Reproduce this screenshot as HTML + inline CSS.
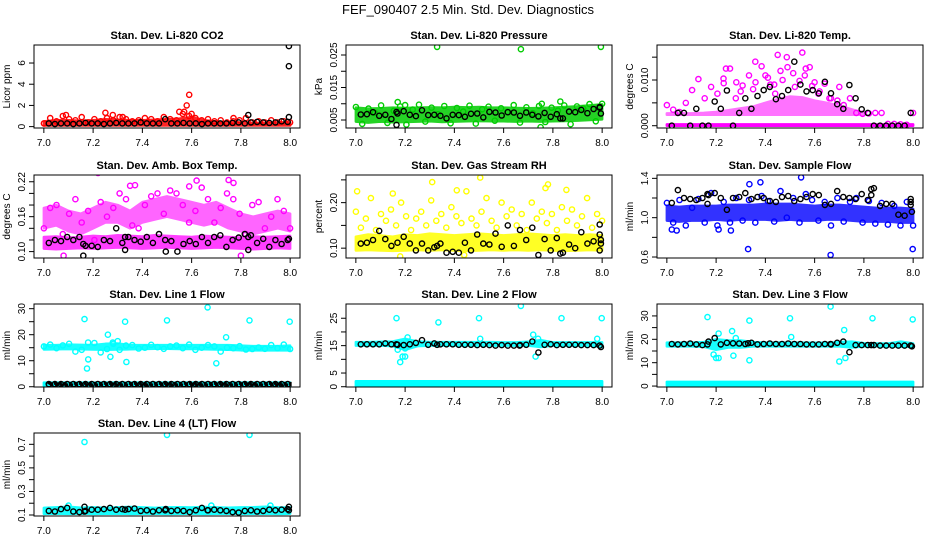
<!DOCTYPE html>
<html><head><meta charset="utf-8"><style>
body{margin:0;background:#fff}
svg{display:block;font-family:"Liberation Sans",sans-serif}
</style></head><body>
<svg id="chart" width="936" height="540" viewBox="0 0 936 540" xmlns="http://www.w3.org/2000/svg">
<rect width="936" height="540" fill="#fff"/>
<text x="468" y="14" text-anchor="middle" font-size="13">FEF_090407  2.5 Min. Std. Dev. Diagnostics</text>
</svg>
<script>
// ---------- data ----------
const xTicks=[7.0,7.2,7.4,7.6,7.8,8.0];
const xTickLabels=["7.0","7.2","7.4","7.6","7.8","8.0"];

const co2Lo=[0.1,0.1,0.1,0.1,0.1,0.1,0.1,0.1,0.1,0.1,0.1,0.1,0.1,0.1,0.1,0.1,0.1,0.1,0.1,0.1,0.1];
const co2Hi=[0.5,0.6,0.6,0.55,0.6,0.7,0.65,0.6,0.6,0.65,0.7,0.75,0.9,0.6,0.5,0.4,0.4,0.35,0.35,0.4,0.4];
const co2Pts=[0.3,0.8,0.5,1.0,0.7,0.6,0.9,0.4,0.7,0.5,0.8,0.6,0.9,0.7,0.5,0.6,0.8,0.7,0.5,0.9,0.7,0.6,1.2,1.0,0.8,0.6,0.7,0.5,0.6,0.4,0.5,0.6,0.8,0.4,0.5,0.4,0.6,0.4,0.5,0.4];
const co2Out=[[7.09,1.1],[7.25,1.3],[7.28,1.1],[7.32,0.9],[7.55,1.4],[7.57,1.4],[7.58,2.0],[7.59,3.0],[7.6,1.2],[7.77,0.8]];
const co2Blk=[0.3,0.25,0.3,0.3,0.25,0.3,0.35,0.3,0.3,0.25,0.3,0.35,0.3,0.3,0.3,0.4,0.3,0.3,0.3,0.7,0.3,0.3,0.35,0.3,0.3,0.25,0.3,0.3,0.3,0.3,0.35,0.4,0.3,0.4,0.45,0.4,0.35,0.4,0.5,0.45];
const co2BlkOut=[[7.83,1.1],[7.995,7.6],[7.995,5.7],[7.995,0.9]];

const prsLo=[0.0045,0.0042,0.0045,0.0043,0.0044,0.0045,0.0046,0.0044,0.0045,0.0046,0.0047,0.0046,0.0046,0.0045,0.0046,0.0045,0.0046,0.0047,0.0048,0.0050,0.0052];
const prsHi=[0.0088,0.0085,0.0086,0.0088,0.0087,0.0088,0.0089,0.0088,0.0090,0.0089,0.0090,0.0088,0.0088,0.0087,0.0086,0.0087,0.0088,0.0090,0.0092,0.0095,0.0098];
const prsPts=[0.009,0.0038,0.0085,0.0072,0.0095,0.0041,0.0078,0.0092,0.0036,0.0082,0.0097,0.0045,0.0088,0.0068,0.0093,0.0040,0.0087,0.0076,0.0094,0.0039,0.0083,0.0091,0.0048,0.0086,0.0075,0.0096,0.0042,0.0089,0.0071,0.0093,0.0044,0.0088,0.0079,0.0095,0.0037,0.0092,0.0085,0.0099,0.0046,0.0100];
const prsOut=[[7.33,0.0275],[7.67,0.0268],[7.995,0.0275],[7.17,0.0105],[7.83,0.0107],[7.755,0.0100],[7.75,0.0028],[7.2,0.0096]];
const prsBlk=[0.0067,0.0068,0.0074,0.0063,0.0066,0.0053,0.0070,0.0077,0.0066,0.0062,0.0080,0.0065,0.0066,0.0063,0.0055,0.0066,0.0065,0.0060,0.0069,0.0070,0.0058,0.0075,0.0073,0.0064,0.0074,0.0073,0.0063,0.0073,0.0066,0.0061,0.0072,0.0060,0.0068,0.0055,0.0076,0.0074,0.0081,0.0071,0.0084,0.0088];
const prsBlkOut=[[7.165,0.0035],[7.165,0.0075],[7.83,0.0055],[7.99,0.0090],[7.995,0.0070]];

const tmpLo0=[0,0,0,0,0,0,0,0,0,0,0,0,0,0,0,0,0,0,0,0,0];
const tmpHi0=[0.0003,0.0003,0.0003,0.0003,0.0003,0.0003,0.0003,0.0003,0.0003,0.0003,0.0003,0.0003,0.0003,0.0003,0.0003,0.0003,0.0003,0.0003,0.0003,0.0003,0.0003];
const tmpLo1=[0.0024,0.0024,0.0024,0.0024,0.0024,0.0024,0.0024,0.0024,0.0024,0.0024,0.0024,0.0024,0.0024,0.0024,0.0024,0.0024,0.0024,null,null,null,null];
const tmpHi1=[0.0027,0.0027,0.0027,0.0028,0.0030,0.0034,0.0038,0.0042,0.0050,0.0058,0.0064,0.0062,0.0055,0.0050,0.0044,0.0036,0.0028,null,null,null,null];
const tmpPts=[0.0045,0.0035,0.0030,0.0050,0.0078,0.0102,0.0060,0.0085,0.0070,0.0093,0.0125,0.0095,0.0088,0.0110,0.0140,0.0130,0.0105,0.0090,0.0120,0.0150,0.0115,0.0098,0.0125,0.0087,0.0070,0.0092,0.0060,0.0055,0.0045,0.0060,0.0028,0.0026,0.0027,0.0028,0.0028,0.0004,0.0004,0.0003,0.0002,0.0028];
const tmpOut=[[7.23,0.0103],[7.24,0.0125],[7.45,0.0155],[7.55,0.0160],[7.58,0.0128],[7.49,0.0128],[7.4,0.0110],[7.3,0.0075],[7.35,0.0080],[7.42,0.0090],[7.47,0.0100],[7.52,0.0085],[7.6,0.0095],[7.62,0.0075],[7.66,0.0060],[7.7,0.0085],[7.28,0.0060],[7.36,0.0095],[7.44,0.0070],[7.56,0.0110]];
const tmpBlk=[0.0,0.0028,0.0028,0.0,0.0037,0.0,0.0,0.0053,0.0037,0.0077,0.0,0.0028,0.0060,0.0037,0.0065,0.0078,0.0085,0.0058,0.0065,0.0078,0.0140,0.0090,0.0075,0.0078,0.0071,0.0096,0.0071,0.0047,0.0037,0.0089,0.0060,0.0036,0.0028,0.0,0.0,0.0,0.0,0.0,0.0,0.0028];

const ambLoA=[0.140,0.145,0.135,0.130,0.140,0.150,0.150,0.140,0.150,0.155,0.160,0.155,0.150,0.145,0.150,0.140,0.135,0.130,0.135,0.140,0.135];
const ambHiA=[0.175,0.180,0.170,0.165,0.175,0.185,0.180,0.170,0.185,0.190,0.195,0.190,0.185,0.180,0.185,0.175,0.165,0.160,0.165,0.170,0.165];
const ambLoB=[0.105,0.104,0.105,0.106,0.105,0.106,0.107,0.106,0.105,0.106,0.107,0.106,0.105,0.106,0.107,0.106,0.105,0.104,0.105,0.106,0.105];
const ambHiB=[0.125,0.126,0.124,0.125,0.127,0.126,0.128,0.127,0.126,0.128,0.127,0.126,0.125,0.127,0.126,0.125,0.124,0.126,0.125,0.126,0.127];
const ambPts=[0.14,0.175,0.18,0.13,0.165,0.19,0.15,0.17,0.12,0.185,0.16,0.175,0.2,0.19,0.145,0.14,0.18,0.195,0.2,0.165,0.205,0.2,0.18,0.15,0.17,0.21,0.19,0.15,0.175,0.2,0.19,0.165,0.13,0.18,0.185,0.14,0.16,0.19,0.17,0.14];
const ambOut=[[7.22,0.235],[7.35,0.213],[7.37,0.214],[7.62,0.222],[7.75,0.223],[7.77,0.218],[7.08,0.093],[7.8,0.093],[7.59,0.212]];
const ambBlk=[0.115,0.12,0.118,0.125,0.12,0.125,0.11,0.11,0.108,0.12,0.118,0.14,0.115,0.125,0.12,0.117,0.125,0.115,0.13,0.12,0.118,0.1,0.113,0.118,0.113,0.125,0.115,0.125,0.128,0.108,0.12,0.124,0.13,0.128,0.115,0.122,0.108,0.12,0.113,0.12];
const ambBlkOut=[[7.16,0.093],[7.16,0.113],[7.33,0.103],[7.33,0.125],[7.83,0.103],[7.83,0.125],[7.995,0.122],[7.495,0.10]];

const rhLo=[0.095,0.096,0.095,0.094,0.095,0.096,0.095,0.096,0.095,0.094,0.095,0.096,0.095,0.096,0.095,0.096,0.095,0.094,0.095,0.096,0.095];
const rhHi=[0.125,0.13,0.128,0.125,0.13,0.128,0.132,0.13,0.128,0.13,0.132,0.13,0.128,0.13,0.132,0.13,0.128,0.13,0.128,0.13,0.128];
const rhPts=[0.18,0.145,0.165,0.21,0.14,0.175,0.16,0.185,0.15,0.2,0.17,0.14,0.165,0.18,0.15,0.205,0.16,0.175,0.145,0.19,0.17,0.155,0.225,0.165,0.15,0.18,0.21,0.16,0.145,0.2,0.17,0.185,0.15,0.175,0.14,0.2,0.165,0.18,0.155,0.175,0.14,0.19,0.16,0.185,0.15,0.17,0.21,0.145,0.175,0.16];
const rhOut=[[7.005,0.225],[7.31,0.245],[7.41,0.227],[7.505,0.255],[7.78,0.24],[7.77,0.232],[7.855,0.228],[7.15,0.22],[7.18,0.082],[7.44,0.085]];
const rhBlk=[0.11,0.112,0.118,0.138,0.12,0.105,0.112,0.125,0.11,0.095,0.11,0.095,0.102,0.11,0.09,0.092,0.09,0.112,0.095,0.13,0.11,0.108,0.132,0.103,0.15,0.105,0.14,0.118,0.145,0.085,0.12,0.095,0.122,0.09,0.108,0.1,0.135,0.11,0.115,0.095];
const rhBlkOut=[[7.99,0.152],[7.99,0.13],[7.995,0.118],[7.995,0.11],[7.33,0.105],[7.83,0.088]];

const sfLo=[0.97,0.96,0.97,0.97,0.98,0.97,0.98,0.98,0.98,0.97,0.98,0.97,0.97,0.98,0.98,0.97,0.96,0.96,0.96,0.95,0.95];
const sfHi=[1.12,1.11,1.12,1.12,1.12,1.13,1.13,1.13,1.14,1.14,1.14,1.13,1.12,1.13,1.13,1.12,1.11,1.10,1.10,1.10,1.09];
const sfPts=[1.15,0.95,1.18,0.92,1.1,1.19,0.95,1.25,0.92,1.16,0.95,1.2,0.97,1.18,0.95,1.22,1.17,0.96,1.27,1.0,1.2,0.95,1.24,1.18,0.97,1.16,0.92,1.2,0.96,1.16,1.2,0.95,1.17,0.94,1.15,0.93,1.12,0.92,1.16,0.92];
const sfOut=[[7.33,0.68],[7.665,0.62],[7.998,0.68],[7.545,1.41],[7.335,1.34],[7.38,1.36],[7.02,0.88],[7.04,0.87],[7.21,0.88],[7.26,0.87]];
const sfBlk=[1.15,1.28,1.2,1.19,1.18,1.2,1.23,1.25,1.2,1.08,1.2,1.21,1.25,1.19,1.21,1.2,1.17,1.16,1.21,1.22,1.17,1.19,1.21,1.24,1.23,1.13,1.14,1.27,1.21,1.2,1.19,1.24,1.18,1.3,1.12,1.14,1.14,1.03,1.02,1.13];
const sfBlkOut=[[7.83,1.29],[7.83,1.23],[7.99,1.19],[7.99,1.16],[7.995,1.06],[7.165,1.14],[7.165,1.24]];

const l1Lo=[14.3,14.4,14.5,14.4,14.3,14.2,14.3,14.4,14.5,14.6,14.6,14.5,14.5,14.4,14.3,14.2,14.0,14.0,14.0,14.0,14.0];
const l1Hi=[16.0,16.0,16.2,16.1,16.0,16.5,16.6,16.0,16.0,16.0,16.0,16.0,16.0,16.0,16.0,16.0,15.8,15.6,15.6,15.6,15.8];
const l1ZLo=[0.4,0.4,0.4,0.4,0.4,0.4,0.4,0.4,0.4,0.4,0.4,0.4,0.4,0.4,0.4,0.4,0.4,0.4,0.4,0.4,0.4];
const l1ZHi=[1.6,1.6,1.6,1.6,1.6,1.6,1.6,1.6,1.6,1.6,1.6,1.6,1.6,1.6,1.6,1.6,1.6,1.6,1.6,1.6,1.6];
const l1Pts=[15.5,16.2,14.8,15.9,16.5,13.5,14.2,17.0,16.8,13.2,14.5,16.5,14.2,15.8,16.0,14.7,15.0,16.1,15.2,14.6,15.5,15.8,14.8,16.2,14.2,15.0,16.0,15.5,13.5,15.0,14.8,15.6,14.3,14.5,15.1,14.6,16.0,14.8,16.2,14.5];
const l1Out=[[7.165,26],[7.33,25],[7.5,25.5],[7.665,30.5],[7.835,25.5],[7.998,25],[7.175,7],[7.18,10.5],[7.26,20],[7.27,11.5],[7.335,9.5],[7.7,9],[7.74,19],[7.3,17.5],[7.28,17]];
const l1Blk=[1,1,1,1,1,1,1,1,1,1,1,1,1,1,1,1,1,1,1,1,1,1,1,1,1,1,1,1,1,1,1,1,1,1,1,1,1,1,1,1];

const l2Lo=[15.0,15.0,15.0,14.8,13.5,14.8,15.0,15.0,15.0,15.0,15.0,15.0,15.0,15.0,15.0,14.5,15.0,15.0,15.0,15.0,14.5];
const l2Hi=[16.3,16.3,16.4,16.5,17.5,16.5,16.3,16.3,16.3,16.3,16.3,16.3,16.2,16.2,16.4,17.0,16.2,16.2,16.2,16.2,16.2];
const l2ZLo=[0.3,0.3,0.3,0.3,0.3,0.3,0.3,0.3,0.3,0.3,0.3,0.3,0.3,0.3,0.3,0.3,0.3,0.3,0.3,0.3,0.3];
const l2ZHi=[2.0,2.0,2.0,2.0,2.0,2.0,2.0,2.0,2.0,2.0,2.0,2.0,2.0,2.0,2.0,2.0,2.0,2.0,2.0,2.0,2.0];
const l2Out=[[7.165,25],[7.335,23.5],[7.5,25],[7.67,29.5],[7.835,25],[7.998,25],[7.18,9],[7.19,11],[7.2,11],[7.21,18],[7.72,19],[7.73,11],[7.74,17.5],[7.505,17.5],[7.98,17.5],[7.17,13.5],[7.2,14]];
const l2Blk=[15.5,15.5,15.5,15.5,15.8,15.5,15.3,15.2,15.5,16.0,17.0,15.3,15.8,15.5,15.5,15.5,15.3,15.3,15.3,15.2,15.3,15.2,15.0,15.2,15.0,15.0,15.2,15.3,16.5,12.5,15.3,15.5,15.2,15.3,15.3,15.3,15.2,15.2,15.2,15.0];
const l2BlkOut=[[7.165,15.5],[7.33,15.3],[7.665,15.0],[7.995,14.5]];

const l3Lo=[17.0,17.0,17.0,16.8,15.5,16.5,16.5,17.0,17.0,17.0,17.0,17.0,17.0,17.0,17.0,16.5,17.0,17.0,17.0,16.8,16.8];
const l3Hi=[18.6,18.6,18.6,18.8,20.0,19.5,19.5,18.8,18.6,18.6,18.6,18.6,18.5,18.5,18.8,19.0,18.3,18.2,18.2,19.0,18.2];
const l3ZLo=[0.3,0.3,0.3,0.3,0.3,0.3,0.3,0.3,0.3,0.3,0.3,0.3,0.3,0.3,0.3,0.3,0.3,0.3,0.3,0.3,0.3];
const l3ZHi=[1.8,1.8,1.8,1.8,1.8,1.8,1.8,1.8,1.8,1.8,1.8,1.8,1.8,1.8,1.8,1.8,1.8,1.8,1.8,1.8,1.8];
const l3Out=[[7.165,29.5],[7.335,28],[7.5,29],[7.665,34],[7.835,29],[7.998,28.5],[7.19,13.5],[7.2,12],[7.21,12],[7.21,22.5],[7.265,23.5],[7.27,13],[7.335,11],[7.505,21],[7.7,10.5],[7.72,24],[7.725,12],[7.28,20.5]];
const l3Blk=[18.0,17.8,18.0,18.2,17.8,17.5,19.0,20.5,17.8,18.5,18.3,18.2,18.0,18.5,17.8,18.0,18.2,18.0,18.0,18.2,18.0,18.0,17.8,17.8,17.8,18.0,17.8,18.5,19.0,14.5,17.5,17.5,17.5,17.5,17.3,17.3,17.3,17.3,17.3,17.3];
const l3BlkOut=[[7.165,17.8],[7.33,18.3],[7.665,18.0],[7.995,17.0],[7.83,17.5]];

const l4Lo=[0.110,0.112,0.110,0.112,0.110,0.111,0.112,0.110,0.111,0.112,0.110,0.111,0.112,0.110,0.111,0.112,0.110,0.111,0.112,0.110,0.111];
const l4Hi=[0.160,0.165,0.170,0.162,0.165,0.160,0.165,0.168,0.165,0.160,0.165,0.166,0.164,0.168,0.165,0.162,0.165,0.166,0.170,0.165,0.164];
const l4Out=[[7.165,0.72],[7.5,0.78],[7.835,0.78],[7.1,0.18],[7.68,0.18],[7.92,0.18]];
const l4Blk=[0.135,0.13,0.15,0.16,0.13,0.125,0.135,0.145,0.145,0.15,0.16,0.145,0.15,0.15,0.155,0.135,0.14,0.13,0.14,0.14,0.135,0.14,0.135,0.125,0.14,0.16,0.14,0.145,0.14,0.135,0.125,0.12,0.135,0.14,0.13,0.135,0.145,0.14,0.145,0.15];
const l4BlkOut=[[7.165,0.17],[7.165,0.13],[7.33,0.145],[7.495,0.15],[7.665,0.14],[7.995,0.17],[7.995,0.14]];

// ---------- drawing ----------
const NS="http://www.w3.org/2000/svg";
const svg=document.getElementById('chart');
const BOXW=266, BOXH=83;
function mk(tag,attrs,parent){const e=document.createElementNS(NS,tag);for(const k in attrs)e.setAttribute(k,attrs[k]);(parent||svg).appendChild(e);return e;}
const panels=[
 {id:'co2',title:'Stan. Dev. Li-820 CO2',ylab:'Licor ppm',left:34,top:45,ymin:-0.13,ymax:7.7,yt:[0,2,4,6],yl:['0','2','4','6'],col:'#ff0000',bands:[[co2Lo,co2Hi,0.85]],pts:co2Pts,out:co2Out,blk:co2Blk,blkOut:co2BlkOut},
 {id:'pressure',title:'Stan. Dev. Li-820 Pressure',ylab:'kPa',left:346,top:45,ymin:0.00254,ymax:0.02808,yt:[0.005,0.010,0.015,0.020,0.025],yl:['0.005','','0.015','','0.025'],col:'#00cc00',bands:[[prsLo,prsHi,0.85]],pts:prsPts,out:prsOut,blk:prsBlk,blkOut:prsBlkOut},
 {id:'temp',title:'Stan. Dev. Li-820 Temp.',ylab:'degrees C',left:657,top:45,ymin:-0.0005,ymax:0.01766,yt:[0,0.005,0.010,0.015],yl:['0.000','','0.010',''],col:'#ff00ff',bands:[[tmpLo0,tmpHi0,1],[tmpLo1,tmpHi1,0.55]],pts:tmpPts,out:tmpOut,blk:tmpBlk,blkOut:[]},
 {id:'ambbox',title:'Stan. Dev. Amb. Box Temp.',ylab:'degrees C',left:34,top:175,ymin:0.089,ymax:0.2316,yt:[0.10,0.12,0.14,0.16,0.18,0.20,0.22],yl:['0.10','','','0.16','','','0.22'],col:'#ff00ff',bands:[[ambLoA,ambHiA,0.6],[ambLoB,ambHiB,0.75]],pts:ambPts,out:ambOut,blk:ambBlk,blkOut:ambBlkOut},
 {id:'rh',title:'Stan. Dev. Gas Stream RH',ylab:'percent',left:346,top:175,ymin:0.0784,ymax:0.2607,yt:[0.10,0.15,0.20,0.25],yl:['0.10','','0.20',''],col:'#ffff00',bands:[[rhLo,rhHi,0.85]],pts:rhPts,out:rhOut,blk:rhBlk,blkOut:rhBlkOut},
 {id:'sampleflow',title:'Stan. Dev. Sample Flow',ylab:'ml/min',left:657,top:175,ymin:0.59,ymax:1.434,yt:[0.6,0.8,1.0,1.2,1.4],yl:['0.6','','1.0','','1.4'],col:'#0000ff',bands:[[sfLo,sfHi,0.8]],pts:sfPts,out:sfOut,blk:sfBlk,blkOut:sfBlkOut},
 {id:'line1',title:'Stan. Dev. Line 1 Flow',ylab:'ml/min',left:34,top:304,ymin:-0.1,ymax:31.8,yt:[0,5,10,15,20,25,30],yl:['0','','10','','20','','30'],col:'#00ffff',bands:[[l1Lo,l1Hi,0.9],[l1ZLo,l1ZHi,1]],pts:l1Pts,out:l1Out,blk:l1Blk,blkOut:[],blkBand:true},
 {id:'line2',title:'Stan. Dev. Line 2 Flow',ylab:'ml/min',left:346,top:304,ymin:-0.1,ymax:30.2,yt:[0,5,10,15,20,25],yl:['0','5','','15','','25'],col:'#00ffff',bands:[[l2Lo,l2Hi,0.9],[l2ZLo,l2ZHi,1]],pts:[],out:l2Out,blk:l2Blk,blkOut:l2BlkOut},
 {id:'line3',title:'Stan. Dev. Line 3 Flow',ylab:'ml/min',left:657,top:304,ymin:-0.4,ymax:35.1,yt:[0,5,10,15,20,25,30],yl:['0','','10','','20','','30'],col:'#00ffff',bands:[[l3Lo,l3Hi,0.9],[l3ZLo,l3ZHi,1]],pts:[],out:l3Out,blk:l3Blk,blkOut:l3BlkOut},
 {id:'line4',title:'Stan. Dev. Line 4 (LT) Flow',ylab:'ml/min',left:34,top:433,ymin:0.0915,ymax:0.796,yt:[0.1,0.2,0.3,0.4,0.5,0.6,0.7],yl:['0.1','','0.3','','0.5','','0.7'],col:'#00ffff',bands:[[l4Lo,l4Hi,0.9]],pts:[],out:l4Out,blk:l4Blk,blkOut:l4BlkOut}
];
function circ(g,x,y,color,name){
  const c=mk('circle',{cx:x.toFixed(1),cy:y.toFixed(1),r:2.6,fill:'none',stroke:color,'stroke-width':1.4},g);
  
  
}
panels.forEach(p=>{
  const g=mk('g',{});
  
  
  const L=p.left,T=p.top,B=T+BOXH;
  const sx=v=>L+BOXW*(v-6.96)/1.08;
  const sy=v=>B-BOXH*(v-p.ymin)/(p.ymax-p.ymin);
  const clipId='clip-'+p.id;
  const cp=mk('clipPath',{id:clipId},g);mk('rect',{x:L,y:T,width:BOXW,height:BOXH},cp);
  const plot=mk('g',{'clip-path':'url(#'+clipId+')'},g);
  
  
  const bandX=i=>7+i*0.05;
  function band(lo,hi,op,color,name){
    let segs=[],cur=[];
    lo.forEach((v,i)=>{if(v===null){if(cur.length)segs.push(cur);cur=[];}else cur.push(i);});
    if(cur.length)segs.push(cur);
    segs.forEach(s=>{
      const pts=s.map(i=>sx(bandX(i))+','+sy(hi[i])).concat(s.slice().reverse().map(i=>sx(bandX(i))+','+sy(lo[i])));
      const poly=mk('polygon',{points:pts.join(' '),fill:color,stroke:color,'stroke-width':2.5,'stroke-linejoin':'round',opacity:op},plot);
      
      
    });
  }
  p.bands.forEach(b=>band(b[0],b[1],b[2],p.col,p.id+'-dense-band'));
  const n=p.pts.length;
  p.pts.forEach((v,i)=>circ(plot,sx(7+i/(n-1)),sy(v),p.col,p.id+'-point'));
  p.out.forEach(o=>circ(plot,sx(o[0]),sy(o[1]),p.col,p.id+'-outlier'));
  if(p.blkBand){
    const pts=[sx(7.02)+','+sy(1.3),sx(8.0)+','+sy(1.3),sx(8.0)+','+sy(0.7),sx(7.02)+','+sy(0.7)];
    const poly=mk('polygon',{points:pts.join(' '),fill:'none',stroke:'#000','stroke-width':3,'stroke-dasharray':'3 2'},plot);
    
    
  }
  const m=p.blk.length;
  p.blk.forEach((v,i)=>circ(plot,sx(7.02+0.97*i/(m-1)),sy(v),'#000',p.id+'-black-point'));
  p.blkOut.forEach(o=>circ(plot,sx(o[0]),sy(o[1]),'#000',p.id+'-black-outlier'));
  const box=mk('rect',{x:L,y:T,width:BOXW,height:BOXH,fill:'none',stroke:'#000','stroke-width':1},g);
  
  
  mk('line',{x1:sx(7),x2:sx(8),y1:B,y2:B,stroke:'#000'},g);
  xTicks.forEach((t,i)=>{
    mk('line',{x1:sx(t),x2:sx(t),y1:B,y2:B+5,stroke:'#000'},g);
    const tx=mk('text',{x:sx(t),y:B+18,'text-anchor':'middle','font-size':10},g);
    tx.textContent=xTickLabels[i];
    
    
  });
  mk('line',{x1:L,x2:L,y1:sy(p.yt[0]),y2:sy(p.yt[p.yt.length-1]),stroke:'#000'},g);
  p.yt.forEach((t,i)=>{
    mk('line',{x1:L-5,x2:L,y1:sy(t),y2:sy(t),stroke:'#000'},g);
    if(p.yl[i]){
      const tx=mk('text',{x:0,y:0,'text-anchor':'middle','font-size':10,transform:'translate('+(L-9)+','+sy(t)+') rotate(-90)'},g);
      tx.textContent=p.yl[i];
      
      
    }
  });
  const yt=mk('text',{x:0,y:0,'text-anchor':'middle','font-size':10,transform:'translate('+(L-24)+','+(T+BOXH/2)+') rotate(-90)'},g);
  yt.textContent=p.ylab;
  
  
  const tt=mk('text',{x:L+BOXW/2,y:T-6,'text-anchor':'middle','font-size':11,'font-weight':'bold'},g);
  tt.textContent=p.title;
  
  
});
</script>
</body></html>
